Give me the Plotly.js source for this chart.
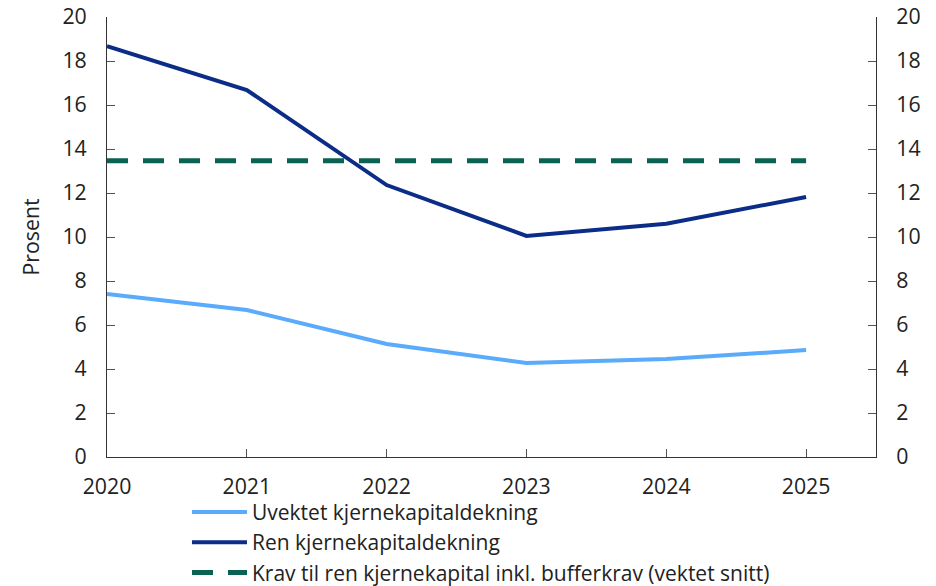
<!DOCTYPE html>
<html>
<head>
<meta charset="utf-8">
<script src="https://cdn.plot.ly/plotly-3.0.1.min.js"></script>
<style>html,body{margin:0;padding:0;background:#fff;}#chart{width:936px;height:586px;}</style>
</head>
<body>
<div id="chart"></div>
<script>
const years = [2020, 2021, 2022, 2023, 2024, 2025];
const uvektet = [7.41, 6.68, 5.14, 4.27, 4.45, 4.86];
const ren = [18.68, 16.68, 12.36, 10.05, 10.6, 11.82];
const krav = [13.47, 13.47, 13.47, 13.47, 13.47, 13.47];
const names = [
  "Uvektet kjernekapitaldekning",
  "Ren kjernekapitaldekning",
  "Krav til ren kjernekapital inkl. bufferkrav (vektet snitt)"
];
const yTicks = [0, 2, 4, 6, 8, 10, 12, 14, 16, 18, 20];

const font = {family: "Open Sans, Noto Sans, sans-serif", size: 21.3, color: "#222"};
const legendFont = {family: "Open Sans, Noto Sans, sans-serif", size: 21, color: "#222"};

const traces = [
  {x: years, y: uvektet, name: names[0], type: "scatter", mode: "lines",
   line: {color: "#5aabfb", width: 4}},
  {x: years, y: ren, name: names[1], type: "scatter", mode: "lines",
   line: {color: "#0b2d88", width: 4}},
  {x: years, y: krav, name: names[2], type: "scatter", mode: "lines",
   line: {color: "#0a6352", width: 5, dash: "21px,15px"}},
  {x: years, y: krav, yaxis: "y2", type: "scatter", mode: "lines", showlegend: false,
   hoverinfo: "skip", opacity: 0, line: {width: 0}}
];

const axisCommon = {
  showgrid: false, zeroline: false, showline: true, linecolor: "#333", linewidth: 1,
  ticks: "inside", ticklen: 8, tickcolor: "#555", tickfont: font
};

const layout = {
  width: 936, height: 586,
  margin: {l: 107, r: 60, t: 17, b: 129, autoexpand: false},
  paper_bgcolor: "#fff", plot_bgcolor: "#fff",
  font: font,
  showlegend: true,
  legend: {x: 0.104, y: -0.079, xanchor: "left", yanchor: "top", orientation: "v",
           font: legendFont, bgcolor: "rgba(0,0,0,0)", tracegroupgap: 0, itemwidth: 55},
  xaxis: Object.assign({}, axisCommon, {range: [2020, 2025.5], tickvals: years,
           ticktext: years.map(String), ticklabelstandoff: 10}),
  yaxis: Object.assign({}, axisCommon, {range: [0, 20], tickvals: yTicks,
           title: {text: "Prosent", font: font, standoff: 16}, ticklabelstandoff: 15}),
  yaxis2: Object.assign({}, axisCommon, {range: [0, 20], tickvals: yTicks, overlaying: "y",
           side: "right", ticklabelstandoff: 15})
};

Plotly.newPlot("chart", traces, layout, {displayModeBar: false, staticPlot: true});
</script>
</body>
</html>
